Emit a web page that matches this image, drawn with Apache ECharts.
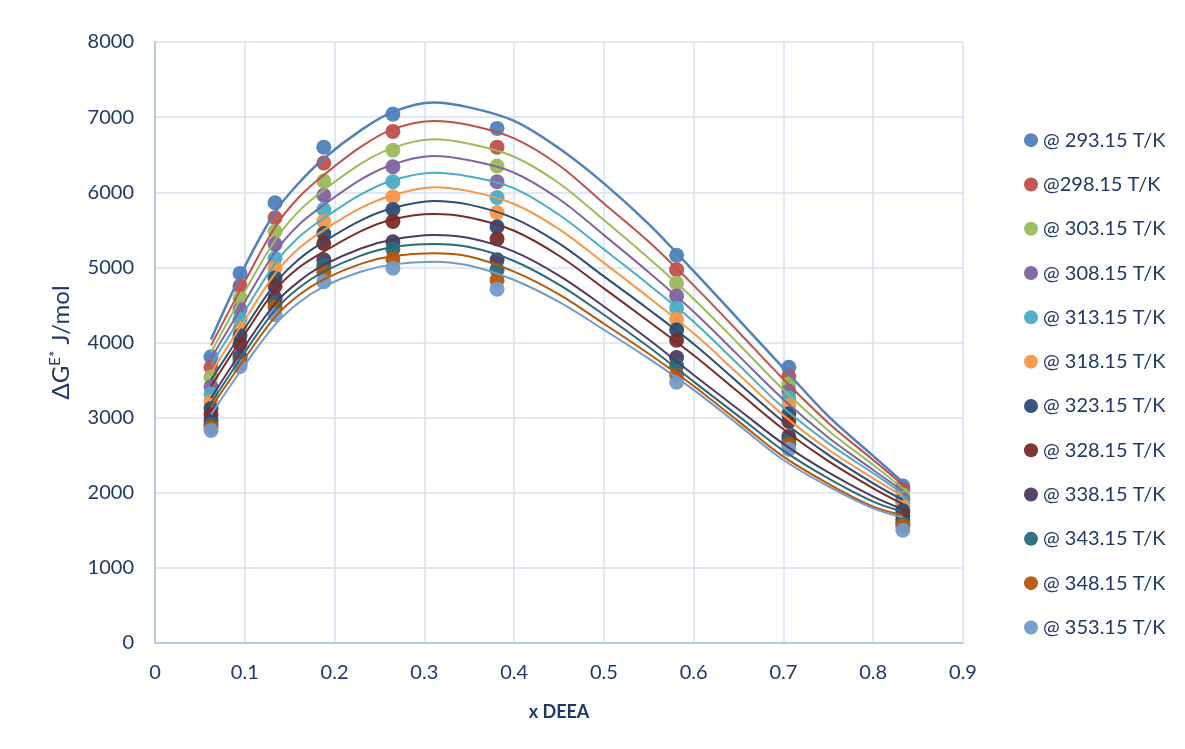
<!DOCTYPE html>
<html>
<head>
<meta charset="utf-8">
<script src="https://cdn.jsdelivr.net/npm/echarts@6/dist/echarts.min.js"></script>
<style>
  html, body { margin: 0; padding: 0; background: #ffffff; }
  #chart { width: 1185px; height: 749px; }
</style>
</head>
<body>
<div id="chart"></div>
<script>
// Measured mole fractions (x DEEA)
const xPoints = [0.0624, 0.0947, 0.1337, 0.188, 0.265, 0.381, 0.581, 0.706, 0.833];
// Series names (legend)
const seriesNames = ['@ 293.15 T/K', '@298.15 T/K', '@ 303.15 T/K', '@ 308.15 T/K', '@ 313.15 T/K', '@ 318.15 T/K',
  '@ 323.15 T/K', '@ 328.15 T/K', '@ 338.15 T/K', '@ 343.15 T/K', '@ 348.15 T/K', '@ 353.15 T/K'];
const seriesColors = ['#4F81BD', '#C0504D', '#9BBB59', '#8064A2', '#4BACC6', '#F79646',
  '#2C4D75', '#772C2A', '#4D3B62', '#276A7C', '#B65708', '#729ACA'];

// Measured ΔGE* (J/mol) per temperature
const g293 = [3810, 4920, 5860, 6600, 7040, 6850, 5160, 3670, 2090];
const g298 = [3670, 4750, 5660, 6390, 6810, 6600, 4970, 3550, 2040];
const g303 = [3540, 4590, 5480, 6150, 6560, 6350, 4790, 3450, 1970];
const g308 = [3410, 4440, 5310, 5960, 6340, 6140, 4620, 3350, 1910];
const g313 = [3310, 4310, 5120, 5770, 6140, 5930, 4460, 3260, 1860];
const g318 = [3210, 4190, 4990, 5610, 5940, 5730, 4310, 3160, 1810];
const g323 = [3120, 4090, 4860, 5450, 5770, 5540, 4170, 3050, 1760];
const g328 = [3040, 3980, 4750, 5320, 5610, 5380, 4030, 2950, 1700];
const g338 = [2960, 3810, 4590, 5100, 5340, 5100, 3800, 2750, 1640];
const g343 = [2910, 3770, 4520, 5020, 5240, 4970, 3690, 2680, 1590];
const g348 = [2870, 3720, 4470, 4940, 5110, 4830, 3570, 2640, 1560];
const g353 = [2830, 3680, 4370, 4810, 4990, 4710, 3470, 2580, 1500];

// Fitted curves, values at these x
const xFit = [0.0624, 0.1, 0.134, 0.16, 0.188, 0.23, 0.265, 0.31, 0.35, 0.4, 0.45, 0.5, 0.55, 0.6, 0.65, 0.7, 0.75, 0.8, 0.833];
const fit293 = [4040, 5010, 5740, 6120, 6450, 6830, 7070, 7195, 7130, 6950, 6585, 6118, 5575, 4950, 4305, 3660, 3020, 2490, 2140];
const fit298 = [3960, 4810, 5541, 5930, 6230, 6610, 6840, 6950, 6895, 6717, 6360, 5850, 5340, 4760, 4140, 3510, 2930, 2436, 2103];
const fit303 = [3870, 4680, 5364, 5745, 6030, 6385, 6590, 6705, 6645, 6473, 6120, 5630, 5120, 4580, 3980, 3370, 2830, 2370, 2059];
const fit308 = [3790, 4540, 5209, 5565, 5830, 6175, 6370, 6482, 6425, 6260, 5910, 5430, 4935, 4410, 3825, 3240, 2735, 2303, 2027];
const fit313 = [3700, 4420, 5054, 5400, 5653, 5975, 6160, 6260, 6210, 6052, 5700, 5240, 4770, 4277, 3703, 3130, 2660, 2259, 1992];
const fit318 = [3600, 4300, 4921, 5250, 5497, 5795, 5960, 6066, 6015, 5844, 5510, 5060, 4600, 4122, 3576, 3030, 2575, 2192, 1957];
const fit323 = [3500, 4190, 4788, 5105, 5342, 5630, 5790, 5884, 5835, 5653, 5320, 4880, 4440, 3980, 3462, 2945, 2505, 2126, 1904];
const fit328 = [3420, 4110, 4699, 4995, 5209, 5485, 5640, 5710, 5665, 5488, 5155, 4720, 4280, 3830, 3337, 2845, 2420, 2059, 1850];
const fit338 = [3260, 3950, 4522, 4810, 5032, 5255, 5370, 5431, 5390, 5209, 4890, 4480, 4040, 3568, 3109, 2650, 2270, 1948, 1780];
const fit343 = [3190, 3870, 4433, 4725, 4943, 5160, 5270, 5311, 5270, 5085, 4770, 4370, 3940, 3479, 3020, 2560, 2190, 1881, 1748];
const fit348 = [3130, 3790, 4344, 4630, 4841, 5050, 5150, 5187, 5145, 4943, 4640, 4250, 3850, 3420, 2950, 2480, 2120, 1815, 1704];
const fit353 = [3040, 3700, 4240, 4530, 4743, 4945, 5040, 5076, 5025, 4832, 4540, 4170, 3785, 3370, 2903, 2436, 2085, 1793, 1673];

// Axis ticks
const xTicks = [0, 0.1, 0.2, 0.3, 0.4, 0.5, 0.6, 0.7, 0.8, 0.9];
const yTicks = [0, 1000, 2000, 3000, 4000, 5000, 6000, 7000, 8000];

const measured = [g293, g298, g303, g308, g313, g318, g323, g328, g338, g343, g348, g353];
const fits = [fit293, fit298, fit303, fit308, fit313, fit318, fit323, fit328, fit338, fit343, fit348, fit353];

const textColor = '#1F3864';
const FONT = 'Lato';

const series = [];
measured.forEach((vals, i) => {
  series.push({
    name: seriesNames[i],
    type: 'scatter',
    symbol: 'circle',
    symbolSize: 15,
    z: 2,
    itemStyle: { color: seriesColors[i], opacity: 0.95 },
    data: xPoints.map((x, k) => [x, vals[k]])
  });
});
fits.forEach((vals, i) => {
  series.push({
    name: 'fit ' + seriesNames[i],
    type: 'line',
    smooth: 0.35,
    showSymbol: false,
    symbol: 'none',
    z: 3,
    silent: true,
    lineStyle: { color: seriesColors[i], width: i === 0 ? 2.5 : 2 },
    data: xFit.map((x, k) => [x, vals[k]])
  });
});

const chart = echarts.init(document.getElementById('chart'), null, { renderer: 'canvas' });
chart.setOption({
  animation: false,
  backgroundColor: '#ffffff',
  textStyle: { fontFamily: FONT },
  grid: { left: 155, right: 222, top: 42, bottom: 106, containLabel: false },
  legend: {
    data: seriesNames,
    orient: 'vertical',
    left: 1019,
    top: 125,
    icon: 'circle',
    itemWidth: 14,
    itemHeight: 14,
    itemGap: 24,
    textStyle: { color: textColor, fontSize: 20, fontFamily: FONT, lineHeight: 20.3 }
  },
  xAxis: {
    type: 'value',
    min: xTicks[0],
    max: xTicks[xTicks.length - 1],
    interval: 0.1,
    name: 'x DEEA',
    nameLocation: 'middle',
    nameGap: 60,
    nameTextStyle: { color: textColor, fontSize: 18, fontWeight: 'bold', fontFamily: FONT },
    axisLine: { show: true, lineStyle: { color: '#A9BEE0', width: 1.5 } },
    axisTick: { show: false },
    splitLine: { show: true, lineStyle: { color: '#D9E2F3', width: 1.5 } },
    axisLabel: { color: textColor, fontSize: 20, margin: 20, fontFamily: FONT,
      formatter: v => (Math.round(v * 10) / 10).toString() }
  },
  yAxis: {
    type: 'value',
    min: yTicks[0],
    max: yTicks[yTicks.length - 1],
    interval: 1000,
    name: 'ΔG{sup|E*} J/mol',
    nameLocation: 'middle',
    nameGap: 80,
    nameRotate: 90,
    nameTextStyle: {
      color: textColor, fontSize: 24, fontFamily: FONT,
      rich: { sup: { fontSize: 15, color: textColor, fontFamily: FONT, verticalAlign: 'top', padding: [0, 0, 12, 0] } }
    },
    axisLine: { show: true, lineStyle: { color: '#A9BEE0', width: 1.5 } },
    axisTick: { show: false },
    splitLine: { show: true, lineStyle: { color: '#D9E2F3', width: 1.5 } },
    axisLabel: { color: textColor, fontSize: 20, margin: 21, fontFamily: FONT,
      formatter: v => String(Math.round(v)) }
  },
  series: series
});
</script>
</body>
</html>
